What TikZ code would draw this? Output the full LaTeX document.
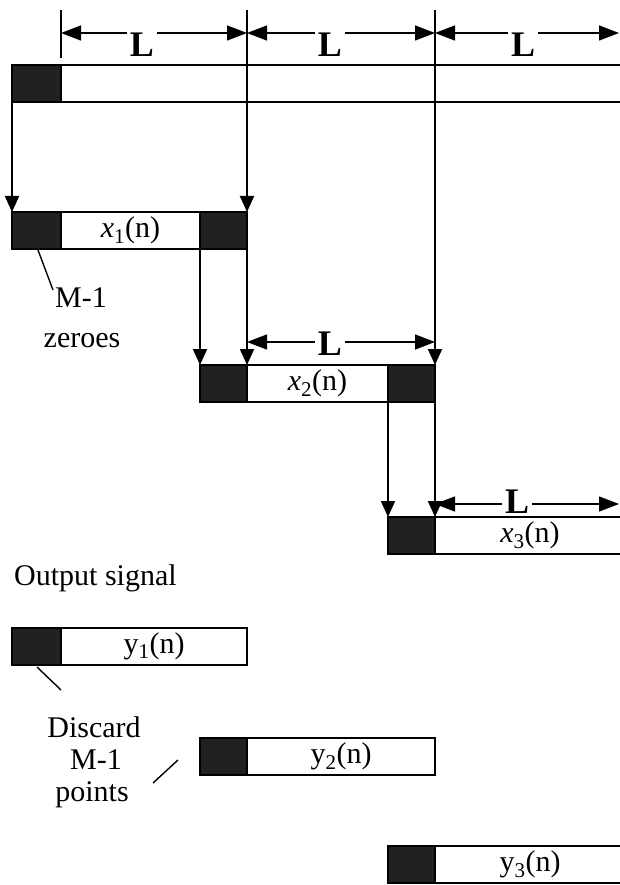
\documentclass[tikz,border=0pt]{standalone}
\usepackage{fontspec}
\setmainfont{Liberation Serif}
\usetikzlibrary{arrows.meta}
\begin{document}
\begin{tikzpicture}[x=1pt,y=-1pt,
  seg/.style={draw, line width=1.4pt, minimum height=37pt, inner sep=0pt, outer sep=0pt, anchor=north west, font=\fontsize{30}{32}\selectfont},
  darkseg/.style={seg, fill=black!87},
  arr/.style={line width=2pt, -{Triangle[length=16pt,width=14pt]}},
  dim/.style={line width=1.4pt, {Triangle[length=20pt,width=15pt]}-{Triangle[length=20pt,width=15pt]}},
  tickline/.style={line width=2pt},
  lbl/.style={font=\fontsize{36}{38}\selectfont\bfseries, fill=white, inner xsep=3pt, inner ysep=5pt, anchor=base},
  txt/.style={font=\fontsize{30}{32}\selectfont, anchor=base, inner sep=0pt},
  leader/.style={line width=1.4pt}]
\useasboundingbox (0,0) rectangle (619,885);

% ---- top signal bar
\node[darkseg, minimum width=49pt] (top0) at (12,65) {};
\node[seg, minimum width=575pt] (topw) at (61,65) {};

% ---- x1
\node[darkseg, minimum width=49pt] (x1a) at (12,212) {};
\node[seg, minimum width=139pt] (x1w) at (61,212) {{\itshape x}\textsubscript{1}(n)};
\node[darkseg, minimum width=47pt] (x1b) at (200,212) {};

% ---- x2
\node[darkseg, minimum width=47pt] (x2a) at (200,365) {};
\node[seg, minimum width=141pt] (x2w) at (247,365) {{\itshape x}\textsubscript{2}(n)};
\node[darkseg, minimum width=47pt] (x2b) at (388,365) {};

% ---- x3
\node[darkseg, minimum width=47pt] (x3a) at (388,517) {};
\node[seg, minimum width=190pt] (x3w) at (435,517) {{\itshape x}\textsubscript{3}(n)};

% ---- outputs
\node[txt, anchor=base west] (out) at (14,585) {Output signal};
\node[darkseg, minimum width=49pt] (y1a) at (12,628) {};
\node[seg, minimum width=186pt] (y1w) at (61,628) {y\textsubscript{1}(n)};
\node[darkseg, minimum width=47pt] (y2a) at (200,738) {};
\node[seg, minimum width=188pt] (y2w) at (247,738) {y\textsubscript{2}(n)};
\node[darkseg, minimum width=47pt] (y3a) at (388,846) {};
\node[seg, minimum width=190pt] (y3w) at (435,846) {y\textsubscript{3}(n)};

% ---- coordinates
\coordinate (c1) at (61,10);
\coordinate (c1b) at (61,58);
\coordinate (c2) at (247,10);
\coordinate (c3) at (435,10);
\coordinate (d1) at (61,33);
\coordinate (d2) at (247,33);
\coordinate (d3) at (435,33);
\coordinate (d4) at (619,33);
\coordinate (e1) at (247,342);
\coordinate (e2) at (435,342);
\coordinate (f1) at (435,504);
\coordinate (f2) at (619,504);

% ---- ticks and vertical arrows
\draw[tickline] (c1) -- (c1b);
\draw[arr] (top0.south west) -- (x1a.north west);
\draw[arr] (c2) -- (x1b.north east);
\draw[arr] (x1b.south west) -- (x2a.north west);
\draw[arr] (x1b.south east) -- (x2a.north east);
\draw[arr] (c3) -- (x2b.north east);
\draw[arr] (x2b.south west) -- (x3a.north west);
\draw[arr] (x2b.south east) -- (x3a.north east);

% ---- dimension arrows
\draw[dim] (d1) -- (d2);
\draw[dim] (d2) -- (d3);
\draw[dim] (d3) -- (d4);
\draw[dim] (e1) -- (e2);
\draw[dim] (f1) -- (f2);
\node[lbl] (L1) at (142,57) {L};
\node[lbl] (L2) at (330,57) {L};
\node[lbl] (L3) at (523,57) {L};
\node[lbl] (L4) at (330,355) {L};
\node[lbl, inner ysep=1pt] (L5) at (517,513) {L};

% ---- annotations
\node[txt] (mz1) at (81,307) {M-1};
\node[txt] (mz2) at (82,347) {zeroes};
\coordinate (m0) at (38,250);
\coordinate (m1) at (53,290);
\draw[leader] (m0) -- (m1);

\node[txt] (dc1) at (94,737) {Discard};
\node[txt] (dc2) at (96,769) {M-1};
\node[txt] (dc3) at (92,801) {points};
\coordinate (p0) at (37,667);
\coordinate (p1) at (61,690);
\draw[leader] (p0) -- (p1);
\coordinate (q0) at (153,783);
\coordinate (q1) at (178,760);
\draw[leader] (q0) -- (q1);
\end{tikzpicture}
\end{document}
